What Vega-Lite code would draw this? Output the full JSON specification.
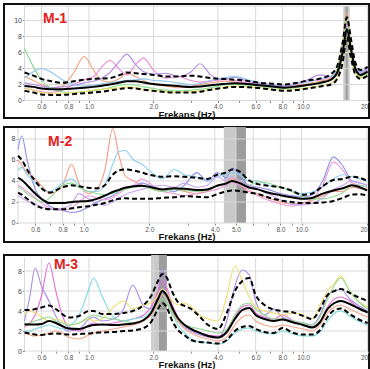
{
"$schema":"https://vega.github.io/schema/vega-lite/v6.json",
"padding":{"left":3,"top":3,"right":0,"bottom":0},
"background":"white",
"config":{"view":{"stroke":"#111","strokeWidth":2},"font":"Liberation Sans",
"axis":{"labelFont":"Liberation Sans","labelFontSize":6.5,"labelColor":"#555","tickColor":"#888","tickSize":2,"domain":false,"grid":false,"titleFont":"Liberation Sans","labelOverlap":false},
"axisLeft":{"labelFontSize":7,"labelColor":"#444","labelPadding":1,"labelOverlap":false,"title":"H/V","titleFontSize":6,"titleFontWeight":"normal","titleColor":"#555","titlePadding":1}},
"datasets":{
"p1":[
{"f":0.5,"m":1.8,"u":3.5,"l":1.2,"c1":3.0,"c2":1.5,"c3":2.2,"c4":2.8,"c5":6.5,"c6":1.5},
{"f":0.55,"m":1.7,"u":3.1,"l":1.0,"c1":2.5,"c2":1.3,"c3":2.0,"c4":3.6,"c5":4.2,"c6":1.3},
{"f":0.6,"m":1.5,"u":2.7,"l":0.75,"c1":2.0,"c2":1.1,"c3":1.8,"c4":4.0,"c5":2.5,"c6":1.0},
{"f":0.67,"m":1.4,"u":2.4,"l":0.7,"c1":1.6,"c2":1.0,"c3":1.6,"c4":3.5,"c5":1.5,"c6":0.9},
{"f":0.75,"m":1.4,"u":2.2,"l":0.7,"c1":1.8,"c2":1.3,"c3":1.7,"c4":2.6,"c5":1.1,"c6":0.9},
{"f":0.85,"m":1.5,"u":2.4,"l":0.8,"c1":3.5,"c2":2.0,"c3":1.9,"c4":2.0,"c5":1.0,"c6":1.0},
{"f":0.95,"m":1.6,"u":2.6,"l":0.9,"c1":5.5,"c2":2.6,"c3":2.2,"c4":1.8,"c5":1.1,"c6":1.1},
{"f":1.05,"m":1.7,"u":2.7,"l":1.0,"c1":3.8,"c2":3.0,"c3":2.4,"c4":1.9,"c5":1.2,"c6":1.3},
{"f":1.15,"m":1.85,"u":2.75,"l":1.1,"c1":2.5,"c2":4.2,"c3":2.8,"c4":2.1,"c5":1.4,"c6":1.4},
{"f":1.25,"m":2.0,"u":2.8,"l":1.25,"c1":2.3,"c2":5.0,"c3":3.5,"c4":2.2,"c5":1.6,"c6":1.5},
{"f":1.4,"m":2.25,"u":3.2,"l":1.45,"c1":2.8,"c2":3.8,"c3":5.0,"c4":2.4,"c5":1.9,"c6":1.6},
{"f":1.5,"m":2.4,"u":3.5,"l":1.55,"c1":3.4,"c2":3.2,"c3":5.8,"c4":2.5,"c5":2.0,"c6":1.7},
{"f":1.65,"m":2.4,"u":3.4,"l":1.5,"c1":3.0,"c2":4.5,"c3":4.5,"c4":2.6,"c5":1.9,"c6":1.6},
{"f":1.8,"m":2.25,"u":3.3,"l":1.35,"c1":2.5,"c2":5.3,"c3":3.6,"c4":2.7,"c5":1.7,"c6":1.4},
{"f":2.0,"m":2.05,"u":3.2,"l":1.2,"c1":2.0,"c2":3.8,"c3":3.3,"c4":2.5,"c5":1.5,"c6":1.3},
{"f":2.3,"m":1.9,"u":3.0,"l":1.05,"c1":1.8,"c2":2.8,"c3":3.4,"c4":2.4,"c5":1.3,"c6":1.1},
{"f":2.6,"m":1.8,"u":3.0,"l":1.0,"c1":1.6,"c2":3.0,"c3":3.0,"c4":2.2,"c5":1.2,"c6":1.0},
{"f":3.0,"m":1.7,"u":3.1,"l":1.0,"c1":1.8,"c2":2.5,"c3":3.6,"c4":2.0,"c5":1.3,"c6":1.1},
{"f":3.3,"m":1.75,"u":3.0,"l":1.1,"c1":2.0,"c2":2.3,"c3":4.6,"c4":2.1,"c5":1.4,"c6":1.2},
{"f":3.7,"m":1.9,"u":2.8,"l":1.35,"c1":2.2,"c2":2.4,"c3":3.2,"c4":2.5,"c5":1.6,"c6":1.4},
{"f":4.2,"m":2.05,"u":2.7,"l":1.55,"c1":2.4,"c2":2.6,"c3":2.6,"c4":2.8,"c5":1.9,"c6":1.6},
{"f":4.8,"m":2.15,"u":2.6,"l":1.7,"c1":2.3,"c2":2.5,"c3":2.9,"c4":3.0,"c5":2.0,"c6":1.8},
{"f":5.5,"m":2.05,"u":2.45,"l":1.65,"c1":2.1,"c2":2.2,"c3":2.4,"c4":2.6,"c5":1.9,"c6":1.7},
{"f":6.3,"m":1.9,"u":2.2,"l":1.55,"c1":1.9,"c2":2.0,"c3":2.1,"c4":2.2,"c5":1.8,"c6":1.6},
{"f":7.2,"m":1.75,"u":2.1,"l":1.35,"c1":1.8,"c2":1.9,"c3":1.9,"c4":2.0,"c5":1.6,"c6":1.4},
{"f":8.2,"m":1.6,"u":2.0,"l":1.2,"c1":1.7,"c2":1.8,"c3":1.8,"c4":1.9,"c5":1.5,"c6":1.3},
{"f":9.3,"m":1.75,"u":2.2,"l":1.3,"c1":1.9,"c2":2.0,"c3":2.1,"c4":2.1,"c5":1.6,"c6":1.4},
{"f":10.5,"m":1.95,"u":2.5,"l":1.5,"c1":2.1,"c2":2.4,"c3":2.6,"c4":2.3,"c5":1.9,"c6":1.6},
{"f":12,"m":2.2,"u":2.75,"l":1.75,"c1":2.4,"c2":2.6,"c3":3.2,"c4":2.7,"c5":2.1,"c6":1.8},
{"f":13.5,"m":2.6,"u":3.3,"l":2.0,"c1":2.8,"c2":3.0,"c3":3.0,"c4":3.0,"c5":2.6,"c6":2.2},
{"f":14.5,"m":3.6,"u":4.5,"l":2.8,"c1":4.2,"c2":4.0,"c3":3.8,"c4":4.0,"c5":4.0,"c6":3.0},
{"f":15.3,"m":6.0,"u":7.3,"l":4.8,"c1":7.5,"c2":6.5,"c3":6.0,"c4":6.8,"c5":7.0,"c6":5.5},
{"f":16,"m":8.9,"u":10.4,"l":7.9,"c1":11.0,"c2":9.5,"c3":8.7,"c4":9.0,"c5":10.3,"c6":8.0},
{"f":16.7,"m":6.5,"u":7.8,"l":5.4,"c1":7.0,"c2":6.5,"c3":6.0,"c4":6.8,"c5":7.0,"c6":5.5},
{"f":17.5,"m":4.0,"u":4.8,"l":3.3,"c1":4.0,"c2":4.2,"c3":4.2,"c4":4.4,"c5":4.0,"c6":3.4},
{"f":18.5,"m":3.2,"u":3.8,"l":2.7,"c1":3.0,"c2":3.4,"c3":3.6,"c4":3.5,"c5":3.0,"c6":2.8},
{"f":20,"m":3.6,"u":4.2,"l":3.1,"c1":3.0,"c2":3.8,"c3":4.2,"c4":4.0,"c5":3.3,"c6":3.2}
],
"p2":[
{"f":0.5,"m":4.3,"u":6.4,"l":2.9,"c1":6.0,"c2":7.0,"c3":5.0,"c4":3.6,"c5":3.4,"c6":2.6},
{"f":0.52,"m":4.1,"u":6.0,"l":2.7,"c1":5.5,"c2":8.3,"c3":5.3,"c4":3.4,"c5":3.2,"c6":2.4},
{"f":0.55,"m":3.6,"u":5.1,"l":2.3,"c1":4.8,"c2":6.0,"c3":4.6,"c4":3.0,"c5":2.8,"c6":2.1},
{"f":0.6,"m":2.8,"u":4.0,"l":1.7,"c1":4.2,"c2":3.2,"c3":3.8,"c4":2.4,"c5":2.3,"c6":1.8},
{"f":0.65,"m":2.2,"u":3.2,"l":1.4,"c1":3.4,"c2":2.2,"c3":3.2,"c4":1.8,"c5":2.0,"c6":1.5},
{"f":0.7,"m":1.9,"u":2.9,"l":1.3,"c1":2.8,"c2":1.6,"c3":3.0,"c4":1.4,"c5":2.4,"c6":1.3},
{"f":0.8,"m":1.9,"u":3.4,"l":1.3,"c1":3.6,"c2":1.2,"c3":3.8,"c4":1.2,"c5":3.6,"c6":1.4},
{"f":0.88,"m":2.0,"u":3.6,"l":1.4,"c1":5.6,"c2":1.0,"c3":4.2,"c4":1.4,"c5":3.8,"c6":1.8},
{"f":0.95,"m":2.05,"u":3.5,"l":1.5,"c1":3.8,"c2":1.1,"c3":3.6,"c4":2.0,"c5":3.4,"c6":2.8},
{"f":1.05,"m":2.1,"u":3.35,"l":1.6,"c1":2.8,"c2":1.5,"c3":3.0,"c4":2.6,"c5":3.0,"c6":2.3},
{"f":1.15,"m":2.3,"u":3.3,"l":1.75,"c1":3.2,"c2":2.0,"c3":3.0,"c4":2.4,"c5":2.8,"c6":1.8},
{"f":1.25,"m":2.6,"u":3.6,"l":1.9,"c1":5.0,"c2":2.3,"c3":3.6,"c4":2.2,"c5":2.7,"c6":1.7},
{"f":1.36,"m":2.95,"u":4.6,"l":2.15,"c1":9.0,"c2":2.6,"c3":5.6,"c4":2.4,"c5":2.8,"c6":2.0},
{"f":1.45,"m":3.15,"u":5.0,"l":2.3,"c1":6.5,"c2":3.0,"c3":6.8,"c4":2.8,"c5":3.0,"c6":2.4},
{"f":1.55,"m":3.35,"u":5.1,"l":2.35,"c1":4.5,"c2":3.4,"c3":6.9,"c4":3.2,"c5":3.2,"c6":2.7},
{"f":1.7,"m":3.5,"u":5.0,"l":2.3,"c1":4.0,"c2":3.5,"c3":6.0,"c4":3.6,"c5":3.4,"c6":3.0},
{"f":1.85,"m":3.55,"u":4.8,"l":2.3,"c1":3.6,"c2":3.8,"c3":5.6,"c4":4.2,"c5":3.5,"c6":3.2},
{"f":2.0,"m":3.45,"u":4.6,"l":2.3,"c1":3.4,"c2":3.6,"c3":5.0,"c4":3.8,"c5":3.3,"c6":3.4},
{"f":2.3,"m":3.2,"u":4.4,"l":2.4,"c1":3.0,"c2":3.2,"c3":4.2,"c4":3.0,"c5":3.0,"c6":3.6},
{"f":2.6,"m":3.3,"u":4.45,"l":2.45,"c1":3.2,"c2":3.0,"c3":5.1,"c4":2.8,"c5":3.2,"c6":3.4},
{"f":2.9,"m":3.25,"u":4.4,"l":2.55,"c1":3.0,"c2":3.6,"c3":4.6,"c4":2.6,"c5":3.1,"c6":3.8},
{"f":3.3,"m":3.15,"u":4.3,"l":2.5,"c1":2.8,"c2":4.8,"c3":4.4,"c4":2.8,"c5":3.0,"c6":3.4},
{"f":3.7,"m":3.2,"u":4.2,"l":2.45,"c1":3.0,"c2":4.0,"c3":4.0,"c4":3.0,"c5":3.1,"c6":3.6},
{"f":4.1,"m":3.55,"u":4.6,"l":2.75,"c1":3.6,"c2":4.8,"c3":4.4,"c4":3.2,"c5":3.6,"c6":4.4},
{"f":4.5,"m":3.75,"u":4.8,"l":3.0,"c1":3.8,"c2":4.3,"c3":4.6,"c4":3.6,"c5":3.8,"c6":4.0},
{"f":4.8,"m":4.0,"u":5.1,"l":3.1,"c1":4.2,"c2":5.2,"c3":4.8,"c4":3.9,"c5":4.0,"c6":4.4},
{"f":5.2,"m":3.8,"u":4.9,"l":3.05,"c1":3.8,"c2":4.6,"c3":4.6,"c4":3.6,"c5":3.8,"c6":4.0},
{"f":5.7,"m":3.4,"u":4.1,"l":2.9,"c1":3.0,"c2":3.6,"c3":4.0,"c4":3.2,"c5":3.6,"c6":3.6},
{"f":6.3,"m":3.2,"u":3.7,"l":2.75,"c1":2.8,"c2":3.4,"c3":4.0,"c4":2.6,"c5":3.9,"c6":3.2},
{"f":7.0,"m":2.9,"u":3.55,"l":2.45,"c1":2.4,"c2":3.2,"c3":3.6,"c4":2.2,"c5":3.8,"c6":2.8},
{"f":8.0,"m":2.65,"u":3.4,"l":2.15,"c1":2.0,"c2":2.8,"c3":3.4,"c4":1.8,"c5":3.4,"c6":2.2},
{"f":9.0,"m":2.45,"u":3.1,"l":2.0,"c1":1.8,"c2":2.6,"c3":3.1,"c4":1.6,"c5":3.0,"c6":1.8},
{"f":10,"m":2.3,"u":2.7,"l":1.9,"c1":1.9,"c2":2.5,"c3":2.8,"c4":1.8,"c5":2.6,"c6":1.7},
{"f":11,"m":2.35,"u":2.75,"l":1.9,"c1":2.1,"c2":2.6,"c3":2.9,"c4":2.2,"c5":2.3,"c6":1.8},
{"f":12.5,"m":2.8,"u":3.5,"l":1.95,"c1":2.6,"c2":4.0,"c3":3.4,"c4":3.6,"c5":2.3,"c6":2.4},
{"f":14,"m":3.1,"u":4.1,"l":2.1,"c1":3.0,"c2":6.3,"c3":4.2,"c4":5.8,"c5":2.5,"c6":3.2},
{"f":15.5,"m":3.3,"u":4.2,"l":2.4,"c1":3.0,"c2":5.4,"c3":4.6,"c4":5.0,"c5":2.9,"c6":3.6},
{"f":17,"m":3.6,"u":4.4,"l":2.7,"c1":3.4,"c2":4.0,"c3":4.4,"c4":3.8,"c5":3.6,"c6":4.0},
{"f":18.5,"m":3.4,"u":4.3,"l":2.75,"c1":3.3,"c2":3.8,"c3":4.2,"c4":3.6,"c5":3.6,"c6":3.8},
{"f":20,"m":3.1,"u":4.0,"l":2.6,"c1":3.2,"c2":3.6,"c3":4.0,"c4":3.4,"c5":3.4,"c6":3.6}
],
"p3":[
{"f":0.5,"m":2.67,"u":4.1,"l":1.85,"c1":3.0,"c2":2.4,"c3":2.0,"c4":3.6,"c5":2.6,"c6":1.8},
{"f":0.53,"m":2.65,"u":4.1,"l":1.75,"c1":5.5,"c2":2.8,"c3":2.0,"c4":4.0,"c5":2.8,"c6":1.6},
{"f":0.56,"m":2.65,"u":4.2,"l":1.65,"c1":8.3,"c2":3.6,"c3":2.2,"c4":3.8,"c5":3.0,"c6":1.5},
{"f":0.6,"m":2.7,"u":4.35,"l":1.6,"c1":6.5,"c2":5.5,"c3":2.4,"c4":3.4,"c5":3.2,"c6":1.6},
{"f":0.65,"m":3.0,"u":4.55,"l":1.7,"c1":5.0,"c2":8.8,"c3":2.6,"c4":3.0,"c5":3.4,"c6":1.8},
{"f":0.7,"m":2.8,"u":4.2,"l":1.75,"c1":3.5,"c2":6.0,"c3":2.4,"c4":3.2,"c5":3.0,"c6":2.0},
{"f":0.75,"m":2.5,"u":3.7,"l":1.7,"c1":2.4,"c2":3.6,"c3":2.2,"c4":3.0,"c5":2.8,"c6":1.8},
{"f":0.8,"m":2.25,"u":3.35,"l":1.65,"c1":2.0,"c2":2.4,"c3":2.4,"c4":2.6,"c5":2.6,"c6":1.4},
{"f":0.9,"m":2.2,"u":3.5,"l":1.7,"c1":2.2,"c2":2.0,"c3":3.6,"c4":2.8,"c5":2.8,"c6":1.2},
{"f":1.0,"m":2.5,"u":4.0,"l":1.75,"c1":3.2,"c2":2.6,"c3":6.2,"c4":3.2,"c5":3.4,"c6":1.6},
{"f":1.05,"m":2.6,"u":4.0,"l":1.8,"c1":3.4,"c2":2.8,"c3":7.3,"c4":3.0,"c5":3.6,"c6":1.8},
{"f":1.15,"m":2.65,"u":3.7,"l":1.85,"c1":3.0,"c2":2.6,"c3":5.5,"c4":3.2,"c5":3.4,"c6":2.0},
{"f":1.3,"m":2.6,"u":3.7,"l":1.9,"c1":3.2,"c2":2.8,"c3":3.4,"c4":4.4,"c5":3.2,"c6":2.2},
{"f":1.45,"m":2.65,"u":3.8,"l":2.0,"c1":4.2,"c2":3.0,"c3":3.0,"c4":5.0,"c5":3.0,"c6":2.4},
{"f":1.6,"m":2.75,"u":4.0,"l":2.05,"c1":6.6,"c2":3.2,"c3":3.2,"c4":4.2,"c5":2.8,"c6":2.6},
{"f":1.8,"m":3.1,"u":4.6,"l":2.3,"c1":4.5,"c2":3.6,"c3":3.4,"c4":4.6,"c5":3.0,"c6":3.0},
{"f":1.95,"m":3.8,"u":5.5,"l":2.9,"c1":4.2,"c2":4.4,"c3":4.0,"c4":4.8,"c5":3.6,"c6":3.6},
{"f":2.1,"m":5.2,"u":7.0,"l":4.2,"c1":5.8,"c2":6.0,"c3":5.0,"c4":5.6,"c5":4.6,"c6":4.8},
{"f":2.2,"m":6.0,"u":7.7,"l":4.8,"c1":8.3,"c2":7.0,"c3":5.6,"c4":6.2,"c5":5.2,"c6":5.6},
{"f":2.3,"m":5.6,"u":7.4,"l":4.4,"c1":6.0,"c2":6.4,"c3":5.0,"c4":5.8,"c5":4.8,"c6":5.2},
{"f":2.45,"m":4.3,"u":5.9,"l":3.0,"c1":4.0,"c2":4.6,"c3":3.8,"c4":5.0,"c5":3.6,"c6":4.0},
{"f":2.6,"m":3.3,"u":4.9,"l":2.1,"c1":3.0,"c2":3.4,"c3":2.6,"c4":4.6,"c5":3.0,"c6":3.0},
{"f":2.8,"m":2.6,"u":4.5,"l":1.55,"c1":2.4,"c2":2.6,"c3":1.8,"c4":4.8,"c5":2.6,"c6":2.2},
{"f":3.0,"m":2.2,"u":4.2,"l":1.1,"c1":2.0,"c2":2.2,"c3":1.2,"c4":4.4,"c5":2.4,"c6":1.8},
{"f":3.3,"m":1.8,"u":3.4,"l":0.9,"c1":1.6,"c2":1.8,"c3":0.9,"c4":3.6,"c5":2.2,"c6":1.4},
{"f":3.6,"m":1.5,"u":2.6,"l":0.85,"c1":1.4,"c2":1.6,"c3":0.8,"c4":3.2,"c5":2.0,"c6":1.2},
{"f":4.0,"m":1.35,"u":2.2,"l":0.75,"c1":1.3,"c2":1.5,"c3":0.7,"c4":3.0,"c5":1.8,"c6":1.0},
{"f":4.4,"m":1.9,"u":3.8,"l":1.1,"c1":3.0,"c2":2.0,"c3":1.0,"c4":5.5,"c5":2.2,"c6":1.4},
{"f":4.8,"m":3.2,"u":6.0,"l":2.0,"c1":6.5,"c2":3.4,"c3":1.8,"c4":8.5,"c5":3.6,"c6":2.6},
{"f":5.2,"m":4.1,"u":7.0,"l":2.4,"c1":8.1,"c2":4.4,"c3":2.2,"c4":7.0,"c5":4.6,"c6":3.4},
{"f":5.6,"m":4.3,"u":7.3,"l":2.5,"c1":7.6,"c2":4.6,"c3":2.3,"c4":5.4,"c5":4.8,"c6":3.6},
{"f":6.0,"m":3.6,"u":5.6,"l":2.2,"c1":5.0,"c2":3.8,"c3":2.0,"c4":4.4,"c5":4.2,"c6":3.0},
{"f":6.6,"m":3.2,"u":4.6,"l":1.9,"c1":3.6,"c2":3.4,"c3":1.8,"c4":4.0,"c5":3.6,"c6":2.6},
{"f":7.3,"m":3.0,"u":4.15,"l":1.8,"c1":4.2,"c2":3.2,"c3":1.7,"c4":3.8,"c5":3.2,"c6":2.4},
{"f":8.0,"m":3.15,"u":4.0,"l":2.3,"c1":3.4,"c2":3.6,"c3":2.0,"c4":3.6,"c5":3.2,"c6":2.6},
{"f":9.0,"m":2.85,"u":3.85,"l":1.8,"c1":3.0,"c2":3.0,"c3":1.7,"c4":3.8,"c5":3.0,"c6":2.4},
{"f":10,"m":2.6,"u":3.5,"l":1.65,"c1":2.8,"c2":2.6,"c3":1.5,"c4":3.6,"c5":2.8,"c6":2.2},
{"f":11,"m":2.35,"u":3.2,"l":1.65,"c1":2.6,"c2":2.4,"c3":1.5,"c4":3.2,"c5":2.6,"c6":2.0},
{"f":12,"m":2.9,"u":4.2,"l":2.1,"c1":3.6,"c2":3.0,"c3":1.9,"c4":4.6,"c5":3.4,"c6":2.6},
{"f":13,"m":4.2,"u":5.6,"l":3.4,"c1":5.5,"c2":4.4,"c3":3.0,"c4":6.0,"c5":5.2,"c6":3.8},
{"f":14,"m":4.8,"u":6.0,"l":4.1,"c1":6.0,"c2":5.2,"c3":3.8,"c4":6.8,"c5":6.6,"c6":4.4},
{"f":15,"m":5.0,"u":6.2,"l":4.25,"c1":6.2,"c2":5.4,"c3":4.0,"c4":7.5,"c5":7.3,"c6":4.6},
{"f":16.5,"m":4.7,"u":5.8,"l":3.7,"c1":5.2,"c2":5.0,"c3":3.5,"c4":6.0,"c5":6.0,"c6":4.2},
{"f":18,"m":4.3,"u":5.4,"l":3.2,"c1":4.6,"c2":4.4,"c3":3.0,"c4":5.0,"c5":5.0,"c6":3.8},
{"f":20,"m":3.85,"u":5.0,"l":2.8,"c1":4.0,"c2":3.8,"c3":2.6,"c4":4.4,"c5":4.2,"c6":3.4}
]
},
"resolve":{"scale":{"x":"independent","y":"independent","stroke":"independent","fill":"independent"}},
"spacing":11,
"vconcat":[
{"spacing":6,
 "resolve":{"scale":{"x":"independent","y":"independent","stroke":"independent","fill":"independent"}},
 "vconcat":[
 {"width":365,"height":114,
  "layer":[
   {"data":{"values":[{"a":15.4,"b":16.5,"s":"light"},{"a":15.8,"b":16.15,"s":"dark"}]},
    "mark":{"type":"rect"},
    "encoding":{"x":{"field":"a","type":"quantitative","scale":{"type":"log","domain":[0.401,20.3],"nice":false}},
     "x2":{"field":"b"},
     "y":{"datum":0,"type":"quantitative","scale":{"domain":[-2.19,12.06],"nice":false,"zero":false},"axis":{"orient":"left","offset":-20.5,"values":[0,2,4,6,8,10]}},
     "y2":{"datum":11.8},
     "fill":{"field":"s","type":"nominal","scale":{"domain":["light","dark"],"range":["#c9c9c9","#9d9d9d"]},"legend":null}}},
   {"data":{"values":[{"v":0.5},{"v":0.6},{"v":0.8},{"v":1},{"v":2},{"v":4},{"v":6},{"v":8},{"v":10},{"v":20}]},
    "mark":{"type":"rule","color":"#d8d8d8","strokeWidth":1},
    "encoding":{"x":{"field":"v","type":"quantitative"},"y":{"datum":0,"type":"quantitative","axis":{"orient":"left","offset":-20.5,"values":[0,2,4,6,8,10]}},"y2":{"datum":11.8}}},
   {"data":{"values":[{"v":0},{"v":2},{"v":4},{"v":6},{"v":8},{"v":10},{"v":11.8}]},
    "mark":{"type":"rule","color":"#d8d8d8","strokeWidth":1},
    "encoding":{"y":{"field":"v","type":"quantitative","axis":{"orient":"left","offset":-20.5,"values":[0,2,4,6,8,10]}},"x":{"datum":0.5,"type":"quantitative"},"x2":{"datum":20}}},
   {"data":{"values":[{"t":"M-1"}]},
    "mark":{"type":"text","align":"left","baseline":"alphabetic","fontSize":14,"fontWeight":"bold","color":"#e3201b","font":"Liberation Sans"},
    "encoding":{"text":{"field":"t"},"x":{"datum":0.61,"type":"quantitative"},"y":{"datum":9.7,"type":"quantitative","axis":{"orient":"left","offset":-20.5,"values":[0,2,4,6,8,10]}}}},
   {"data":{"name":"p1"},"transform":[{"fold":["c1","c2","c3","c4","c5","c6"],"as":["k","v"]}],
    "mark":{"type":"line","strokeWidth":1.1,"interpolate":"monotone"},
    "encoding":{"x":{"field":"f","type":"quantitative"},"y":{"field":"v","type":"quantitative","axis":{"orient":"left","offset":-20.5,"values":[0,2,4,6,8,10]}},
     "stroke":{"field":"k","type":"nominal","scale":{"domain":["c1","c2","c3","c4","c5","c6"],"range":["#f4a07e","#f08ad8","#b38be6","#8cc3f0","#86dc8e","#e8dc60"]},"legend":null}}},
   {"data":{"name":"p1"},"transform":[{"fold":["u","l"],"as":["k","v"]}],
    "mark":{"type":"line","color":"#000","strokeWidth":2,"strokeDash":[5,3],"interpolate":"monotone"},
    "encoding":{"x":{"field":"f","type":"quantitative"},"y":{"field":"v","type":"quantitative","axis":{"orient":"left","offset":-20.5,"values":[0,2,4,6,8,10]}},"detail":{"field":"k"}}},
   {"data":{"name":"p1"},
    "mark":{"type":"line","color":"#000","strokeWidth":2,"interpolate":"monotone"},
    "encoding":{
     "x":{"field":"f","type":"quantitative","axis":{"orient":"bottom","offset":-17.5,"values":[0.6,0.7,0.8,0.9,1,2,3,4,5,6,7,8,9,10,20],"labelExpr":"(datum.value==0.7||datum.value==0.9||datum.value==3||datum.value==5||datum.value==7||datum.value==9)?'':(datum.value==20?'20':format(datum.value,'.1f'))","labelAlign":{"condition":{"test":"datum.value==20","value":"right"},"value":"center"},"labelFlush":false,"labelOverlap":false,"labelPadding":1,"title":"Frekans (Hz)","titleFontSize":9.5,"titleFontWeight":"bold","titleColor":"#111","titlePadding":-1}},
     "y":{"field":"m","type":"quantitative","axis":{"orient":"left","offset":-20.5,"values":[0,2,4,6,8,10]}}}}
  ]},
 {"width":365,"height":115,
  "layer":[
   {"data":{"values":[{"a":4.4,"b":5.0,"s":"light"},{"a":5.0,"b":5.56,"s":"dark"}]},
    "mark":{"type":"rect"},
    "encoding":{"x":{"field":"a","type":"quantitative","scale":{"type":"log","domain":[0.431,20.4],"nice":false}},
     "x2":{"field":"b"},
     "y":{"datum":0,"type":"quantitative","scale":{"domain":[-1.81,9.14],"nice":false,"zero":false},"axis":{"orient":"left","offset":-14,"values":[0,2,4,6,8]}},
     "y2":{"datum":9.14},
     "fill":{"field":"s","type":"nominal","scale":{"domain":["light","dark"],"range":["#c9c9c9","#9d9d9d"]},"legend":null}}},
   {"data":{"values":[{"v":0.5},{"v":0.6},{"v":0.8},{"v":1},{"v":2},{"v":4},{"v":5},{"v":6},{"v":8},{"v":10},{"v":20}]},
    "mark":{"type":"rule","color":"#d8d8d8","strokeWidth":1},
    "encoding":{"x":{"field":"v","type":"quantitative"},"y":{"datum":0,"type":"quantitative","axis":{"orient":"left","offset":-14,"values":[0,2,4,6,8]}},"y2":{"datum":9.0}}},
   {"data":{"values":[{"v":0},{"v":2},{"v":4},{"v":6},{"v":8}]},
    "mark":{"type":"rule","color":"#d8d8d8","strokeWidth":1},
    "encoding":{"y":{"field":"v","type":"quantitative","axis":{"orient":"left","offset":-14,"values":[0,2,4,6,8]}},"x":{"datum":0.5,"type":"quantitative"},"x2":{"datum":20}}},
   {"data":{"values":[{"t":"M-2"}]},
    "mark":{"type":"text","align":"left","baseline":"alphabetic","fontSize":14,"fontWeight":"bold","color":"#e3201b","font":"Liberation Sans"},
    "encoding":{"text":{"field":"t"},"x":{"datum":0.687,"type":"quantitative"},"y":{"datum":7.33,"type":"quantitative","axis":{"orient":"left","offset":-14,"values":[0,2,4,6,8]}}}},
   {"data":{"name":"p2"},"transform":[{"fold":["c1","c2","c3","c4","c5","c6"],"as":["k","v"]}],
    "mark":{"type":"line","strokeWidth":1.1,"interpolate":"monotone","clip":true},
    "encoding":{"x":{"field":"f","type":"quantitative"},"y":{"field":"v","type":"quantitative","axis":{"orient":"left","offset":-14,"values":[0,2,4,6,8]}},
     "stroke":{"field":"k","type":"nominal","scale":{"domain":["c1","c2","c3","c4","c5","c6"],"range":["#f49a80","#8e90ea","#8fd0ec","#eb9ad8","#92dc92","#c6a6f0"]},"legend":null}}},
   {"data":{"name":"p2"},"transform":[{"fold":["u","l"],"as":["k","v"]}],
    "mark":{"type":"line","color":"#000","strokeWidth":2,"strokeDash":[5,3],"interpolate":"monotone"},
    "encoding":{"x":{"field":"f","type":"quantitative"},"y":{"field":"v","type":"quantitative","axis":{"orient":"left","offset":-14,"values":[0,2,4,6,8]}},"detail":{"field":"k"}}},
   {"data":{"name":"p2"},
    "mark":{"type":"line","color":"#000","strokeWidth":2,"interpolate":"monotone"},
    "encoding":{
     "x":{"field":"f","type":"quantitative","axis":{"orient":"bottom","offset":-19,"values":[0.6,0.7,0.8,0.9,1,2,3,4,5,6,7,8,9,10,20],"labelExpr":"(datum.value==0.7||datum.value==0.9||datum.value==3||datum.value==6||datum.value==7||datum.value==9)?'':(datum.value==20?'20':format(datum.value,'.1f'))","labelAlign":{"condition":{"test":"datum.value==20","value":"right"},"value":"center"},"labelFlush":false,"labelOverlap":false,"labelPadding":1,"title":"Frekans (Hz)","titleFontSize":9.5,"titleFontWeight":"bold","titleColor":"#111","titlePadding":-1}},
     "y":{"field":"m","type":"quantitative","axis":{"orient":"left","offset":-14,"values":[0,2,4,6,8]}}}}
  ]}
 ]},
 {"width":365,"height":115,
  "layer":[
   {"data":{"values":[{"a":1.95,"b":2.12,"s":"light"},{"a":2.12,"b":2.31,"s":"dark"}]},
    "mark":{"type":"rect"},
    "encoding":{"x":{"field":"a","type":"quantitative","scale":{"type":"log","domain":[0.401,20.3],"nice":false}},
     "x2":{"field":"b"},
     "y":{"datum":0,"type":"quantitative","scale":{"domain":[-1.9,9.6],"nice":false,"zero":false},"axis":{"orient":"left","offset":-20.5,"values":[0,2,4,6,8]}},
     "y2":{"datum":9.6},
     "fill":{"field":"s","type":"nominal","scale":{"domain":["light","dark"],"range":["#c9c9c9","#9d9d9d"]},"legend":null}}},
   {"data":{"values":[{"v":0.5},{"v":0.6},{"v":0.8},{"v":1},{"v":2},{"v":4},{"v":6},{"v":8},{"v":10},{"v":20}]},
    "mark":{"type":"rule","color":"#d8d8d8","strokeWidth":1},
    "encoding":{"x":{"field":"v","type":"quantitative"},"y":{"datum":0,"type":"quantitative","axis":{"orient":"left","offset":-20.5,"values":[0,2,4,6,8]}},"y2":{"datum":9.3}}},
   {"data":{"values":[{"v":0},{"v":2},{"v":4},{"v":6},{"v":8}]},
    "mark":{"type":"rule","color":"#d8d8d8","strokeWidth":1},
    "encoding":{"y":{"field":"v","type":"quantitative","axis":{"orient":"left","offset":-20.5,"values":[0,2,4,6,8]}},"x":{"datum":0.5,"type":"quantitative"},"x2":{"datum":20}}},
   {"data":{"values":[{"t":"M-3"}]},
    "mark":{"type":"text","align":"left","baseline":"alphabetic","fontSize":14,"fontWeight":"bold","color":"#e3201b","font":"Liberation Sans"},
    "encoding":{"text":{"field":"t"},"x":{"datum":0.686,"type":"quantitative"},"y":{"datum":8.2,"type":"quantitative","axis":{"orient":"left","offset":-20.5,"values":[0,2,4,6,8]}}}},
   {"data":{"name":"p3"},"transform":[{"fold":["c1","c2","c3","c4","c5","c6"],"as":["k","v"]}],
    "mark":{"type":"line","strokeWidth":1.1,"interpolate":"monotone"},
    "encoding":{"x":{"field":"f","type":"quantitative"},"y":{"field":"v","type":"quantitative","axis":{"orient":"left","offset":-20.5,"values":[0,2,4,6,8]}},
     "stroke":{"field":"k","type":"nominal","scale":{"domain":["c1","c2","c3","c4","c5","c6"],"range":["#a88ce8","#e46fd2","#7fd8e2","#f0dc70","#92d892","#f4a68a"]},"legend":null}}},
   {"data":{"name":"p3"},"transform":[{"fold":["u","l"],"as":["k","v"]}],
    "mark":{"type":"line","color":"#000","strokeWidth":2,"strokeDash":[5,3],"interpolate":"monotone"},
    "encoding":{"x":{"field":"f","type":"quantitative"},"y":{"field":"v","type":"quantitative","axis":{"orient":"left","offset":-20.5,"values":[0,2,4,6,8]}},"detail":{"field":"k"}}},
   {"data":{"name":"p3"},
    "mark":{"type":"line","color":"#000","strokeWidth":2,"interpolate":"monotone"},
    "encoding":{
     "x":{"field":"f","type":"quantitative","axis":{"orient":"bottom","offset":-19,"values":[0.6,0.7,0.8,0.9,1,2,3,4,5,6,7,8,9,10,20],"labelExpr":"(datum.value==0.7||datum.value==0.9||datum.value==3||datum.value==5||datum.value==7||datum.value==9)?'':(datum.value==20?'20':format(datum.value,'.1f'))","labelAlign":{"condition":{"test":"datum.value==20","value":"right"},"value":"center"},"labelFlush":false,"labelOverlap":false,"labelPadding":1,"title":"Frekans (Hz)","titleFontSize":9.5,"titleFontWeight":"bold","titleColor":"#111","titlePadding":-1}},
     "y":{"field":"m","type":"quantitative","axis":{"orient":"left","offset":-20.5,"values":[0,2,4,6,8]}}}}
  ]}
]
}
